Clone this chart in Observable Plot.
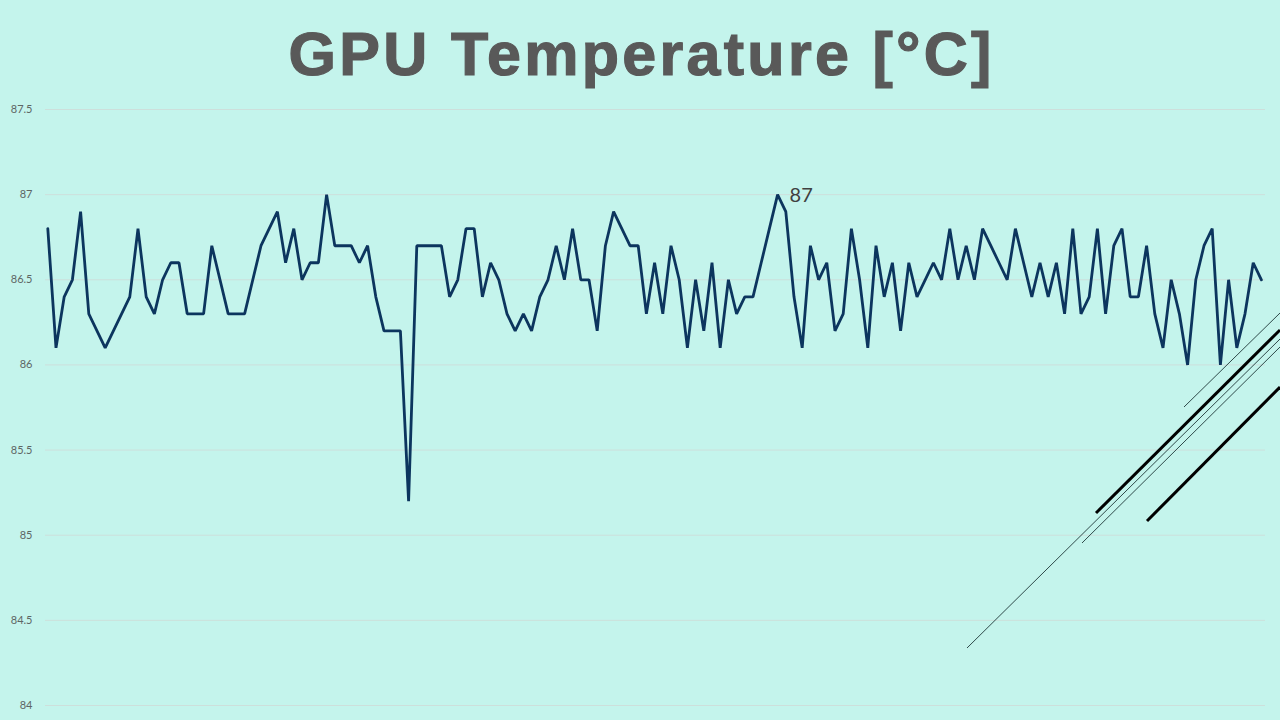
<!DOCTYPE html>
<html>
<head>
<meta charset="utf-8">
<script src="https://cdn.jsdelivr.net/npm/d3@7"></script>
<script src="https://cdn.jsdelivr.net/npm/@observablehq/plot@0.6"></script>
<style>
  html, body { margin: 0; padding: 0; }
  body { width: 1280px; height: 720px; background: #c4f4ec; position: relative; overflow: hidden; }
  #title { position: absolute; left: 0; top: 24px; width: 1280px; text-align: center;
           font: bold 61px "Liberation Sans", Arial, sans-serif; line-height: 60px; color: #595959;
           letter-spacing: 3.3px; padding-left: 3.3px; box-sizing: border-box;
           -webkit-text-stroke: 1.2px #595959; }
  #chart { position: absolute; left: 0; top: 95px; }
  #deco { position: absolute; left: 0; top: 0; pointer-events: none; }
</style>
</head>
<body>
<div id="title">GPU Temperature [°C]</div>
<div id="chart"></div>
<svg id="deco" width="1280" height="720">
  <line x1="967" y1="648" x2="1280" y2="339" stroke="#2f4a4a" stroke-width="1"/>
  <line x1="1082" y1="543" x2="1280" y2="347" stroke="#2f4a4a" stroke-width="1"/>
  <line x1="1184" y1="407" x2="1280" y2="313" stroke="#2f4a4a" stroke-width="1"/>
  <line x1="1096" y1="513" x2="1280" y2="330" stroke="#000" stroke-width="3"/>
  <line x1="1147" y1="521" x2="1280" y2="387" stroke="#000" stroke-width="3"/>
</svg>
<script>
// GPU temperature samples (°C), one per time step
const temps = [
  86.8, 86.1, 86.4, 86.5, 86.9, 86.3, 86.2, 86.1, 86.2, 86.3,
  86.4, 86.8, 86.4, 86.3, 86.5, 86.6, 86.6, 86.3, 86.3, 86.3,
  86.7, 86.5, 86.3, 86.3, 86.3, 86.5, 86.7, 86.8, 86.9, 86.6,
  86.8, 86.5, 86.6, 86.6, 87.0, 86.7, 86.7, 86.7, 86.6, 86.7,
  86.4, 86.2, 86.2, 86.2, 85.2, 86.7, 86.7, 86.7, 86.7, 86.4,
  86.5, 86.8, 86.8, 86.4, 86.6, 86.5, 86.3, 86.2, 86.3, 86.2,
  86.4, 86.5, 86.7, 86.5, 86.8, 86.5, 86.5, 86.2, 86.7, 86.9,
  86.8, 86.7, 86.7, 86.3, 86.6, 86.3, 86.7, 86.5, 86.1, 86.5,
  86.2, 86.6, 86.1, 86.5, 86.3, 86.4, 86.4, 86.6, 86.8, 87.0,
  86.9, 86.4, 86.1, 86.7, 86.5, 86.6, 86.2, 86.3, 86.8, 86.5,
  86.1, 86.7, 86.4, 86.6, 86.2, 86.6, 86.4, 86.5, 86.6, 86.5,
  86.8, 86.5, 86.7, 86.5, 86.8, 86.7, 86.6, 86.5, 86.8, 86.6,
  86.4, 86.6, 86.4, 86.6, 86.3, 86.8, 86.3, 86.4, 86.8, 86.3,
  86.7, 86.8, 86.4, 86.4, 86.7, 86.3, 86.1, 86.5, 86.3, 86.0,
  86.5, 86.7, 86.8, 86.0, 86.5, 86.1, 86.3, 86.6, 86.5
];
// y-axis tick values
const yTicks = [84, 84.5, 85, 85.5, 86, 86.5, 87, 87.5];
// labelled point (index of the annotated peak)
const labelIndex = [89];

const data = temps.map((t, i) => ({i, t}));
const labelled = labelIndex.map(i => ({i, t: temps[i], label: String(temps[i])}));

const chart = Plot.plot({
  width: 1280,
  height: 625,
  marginLeft: 45,
  marginRight: 15,
  marginTop: 14,
  marginBottom: 15,
  style: { background: "transparent", fontFamily: "Lato, sans-serif", color: "#595959", overflow: "visible" },
  x: { domain: [-0.28, temps.length - 0.5], axis: null },
  y: { domain: [84, 87.5] },
  marks: [
    Plot.gridY(yTicks, { stroke: "#cddfdb", strokeOpacity: 1, strokeWidth: 1 }),
    Plot.axisY(yTicks, { tickSize: 0, tickPadding: 13, tickFormat: d => String(d), fontSize: 11, fill: "#5e6665", label: null }),
    Plot.line(data, { x: "i", y: "t", stroke: "#0c355e", strokeWidth: 2.8, strokeLinejoin: "miter" }),
    Plot.text(labelled, { x: "i", y: "t", text: "label", dx: 12, dy: 1, textAnchor: "start", fontSize: 20, fill: "#404040" })
  ]
});
document.getElementById("chart").appendChild(chart);
</script>
</body>
</html>
